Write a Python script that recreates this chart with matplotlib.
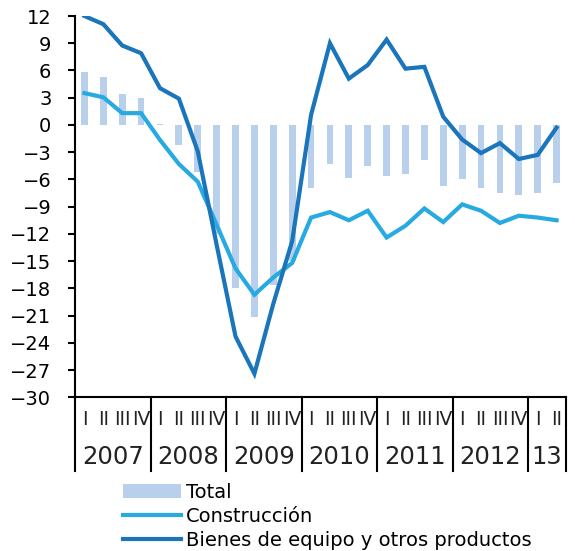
import numpy as np
import matplotlib.pyplot as plt
from matplotlib.patches import Patch
from matplotlib.lines import Line2D

# Quarterly data, 2007Q1 - 2013Q2
years = ['2007', '2008', '2009', '2010', '2011', '2012', '13']
quarters_per_year = [4, 4, 4, 4, 4, 4, 2]
quarter_names = ['I', 'II', 'III', 'IV']

total = [5.8, 5.3, 3.4, 3.0,
         0.15, -2.2, -5.2, -12.0,
         -18.0, -21.2, -17.6, -15.0,
         -7.0, -4.3, -5.8, -4.55,
         -5.6, -5.4, -3.9, -6.7,
         -6.0, -6.9, -7.5, -7.7,
         -7.5, -6.4]

construccion = [3.5, 3.05, 1.3, 1.3,
                -1.65, -4.3, -6.25, -11.0,
                -15.8, -18.7, -16.8, -15.2,
                -10.2, -9.6, -10.5, -9.45,
                -12.4, -11.1, -9.2, -10.7,
                -8.75, -9.45, -10.8, -10.0,
                -10.2, -10.5]

bienes = [12.0, 11.1, 8.75, 7.9,
          4.05, 2.9, -2.9, -13.2,
          -23.3, -27.4, -19.7, -12.8,
          1.1, 9.0, 5.1, 6.6,
          9.4, 6.2, 6.4, 0.9,
          -1.6, -3.1, -2.0, -3.75,
          -3.3, -0.3]

col_total = '#B9D0EC'
col_cons = '#27AAE1'
col_bienes = '#1B75BB'

x = np.arange(len(total))

fig = plt.figure(figsize=(5.75, 5.51), dpi=100)
ax = fig.add_axes([75 / 575, 1 - 397.3 / 551, (566 - 75) / 575, (397.3 - 16) / 551])

ax.bar(x, total, width=0.36, color=col_total, zorder=1)
ax.plot(x, construccion, color=col_cons, lw=3, zorder=2, solid_joinstyle='miter')
ax.plot(x, bienes, color=col_bienes, lw=3, zorder=3, solid_joinstyle='miter')

ax.set_xlim(-0.5, len(total) - 0.5)
ax.set_ylim(-30, 12)
ax.set_yticks(np.arange(-30, 13, 3))
ax.tick_params(axis='y', direction='out', length=5, width=1.5, pad=12, labelsize=14)
ax.set_xticks([])
for s in ['top', 'right']:
    ax.spines[s].set_visible(False)
for s in ['left', 'bottom']:
    ax.spines[s].set_linewidth(1.5)
    ax.spines[s].set_color('black')

# quarter and year labels below the axis
trans = ax.get_xaxis_transform()
pos = 0
bounds = [-0.5]
for yr, n in zip(years, quarters_per_year):
    for q in range(n):
        ax.text(pos + q, -0.058, quarter_names[q], transform=trans, ha='center',
                va='center', fontsize=13.5, color='#222222')
    ax.text(pos + (n - 1) / 2, -0.157, yr, transform=trans, ha='center',
            va='center', fontsize=17.5, color='#222222')
    pos += n
    bounds.append(pos - 0.5)
for b in bounds:
    ax.plot([b, b], [0, -0.1925], transform=trans, color='black', lw=1.5,
            clip_on=False)

handles = [Patch(facecolor=col_total, edgecolor='none'),
           Line2D([], [], color=col_cons, lw=3),
           Line2D([], [], color=col_bienes, lw=3)]
labels = ['Total', 'Construcción', 'Bienes de equipo y otros productos']
fig.legend(handles, labels, loc='upper left', bbox_to_anchor=(122.7 / 575, 1 - 483 / 551),
           frameon=False, fontsize=14, handlelength=3.0, handletextpad=0.25,
           labelspacing=0.25, borderpad=0, borderaxespad=0)

plt.savefig('out.png', dpi=100)
